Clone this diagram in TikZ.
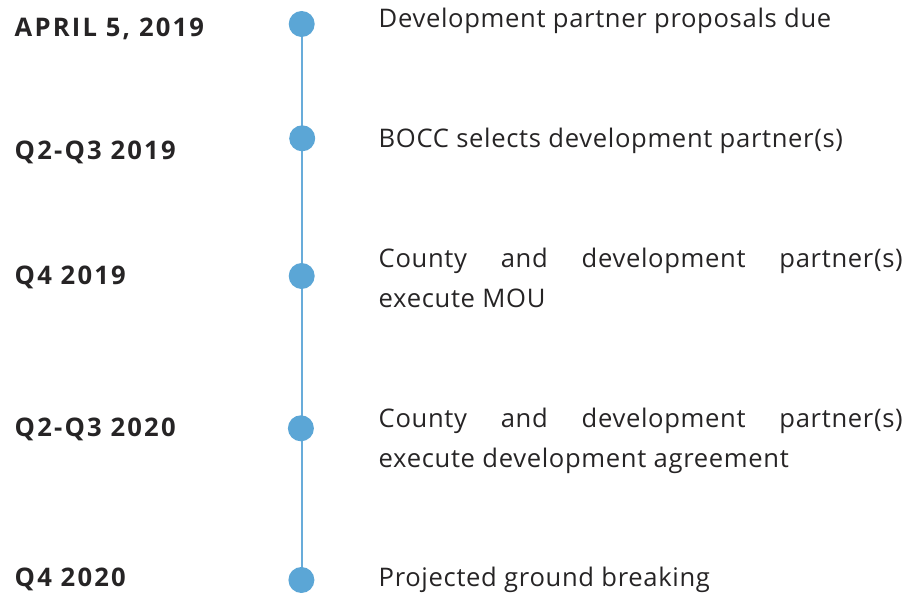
\documentclass[tikz,border=0pt]{standalone}
\usepackage{fontspec}
\setmainfont{Open Sans}
\newfontfamily\datefont{Open Sans}[LetterSpace=8.6]
\newfontfamily\descfont{Open Sans}[LetterSpace=2.6,HyphenChar=None]
\hyphenpenalty=10000
\exhyphenpenalty=10000
\tolerance=10000
\definecolor{dotblue}{RGB}{91,166,214}
\definecolor{linkblue}{RGB}{104,172,218}
\definecolor{txt}{RGB}{38,36,37}
\tikzset{
  dotnode/.style={circle,fill=dotblue,minimum size=26pt,inner sep=0pt},
  datelabel/.style={anchor=base west,inner sep=0pt,text=txt,font=\datefont\fontsize{25.6}{40}\selectfont\bfseries},
  desclabel/.style={anchor=base west,inner sep=0pt,text=txt,text width=524pt,align=justify,font=\descfont\fontsize{25.6}{40}\selectfont},
  timeline/.style={draw=linkblue,line width=2pt}
}
\begin{document}
\begin{tikzpicture}[x=1pt,y=-1pt]
\useasboundingbox (0,0) rectangle (921,593);
% dots
\coordinate (c1) at (301.6,24);
\coordinate (c5) at (301.6,580);
\draw[timeline] (c1) -- (c5);
\node[dotnode] (d1) at (301.7,24) {};
\node[dotnode] (d2) at (302.2,138.3) {};
\node[dotnode] (d3) at (301.7,276) {};
\node[dotnode] (d4) at (300.9,428.3) {};
\node[dotnode] (d5) at (301.4,580) {};
% dates
\node[datelabel] (l1) at (14.5,36.7) {APRIL 5, 2019};
\node[datelabel] (l2) at (14.5,159.3) {Q2-Q3 2019};
\node[datelabel] (l3) at (14.5,284.3) {Q4 2019};
\node[datelabel] (l4) at (14.5,436) {Q2-Q3 2020};
\node[datelabel] (l5) at (14.5,586.7) {Q4 2020};
% descriptions
\node[desclabel] (t1) at (378.5,27.7) {Development partner proposals due};
\node[desclabel] (t2) at (378.5,147.3) {BOCC selects development partner(s)};
\node[desclabel] (t3) at (378.5,267.3) {County and development partner(s) execute MOU};
\node[desclabel] (t4) at (378.5,427.3) {County and development partner(s) execute development agreement};
\node[desclabel] (t5) at (378.5,586.7) {Projected ground breaking};
\end{tikzpicture}
\end{document}
